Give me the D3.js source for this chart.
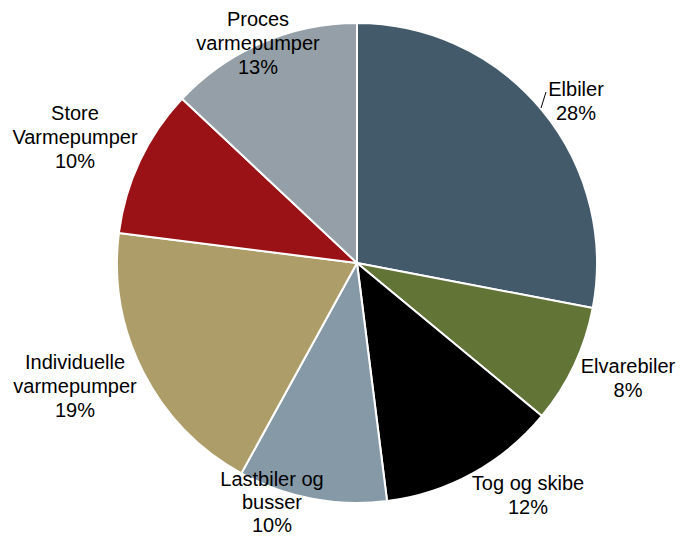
<!DOCTYPE html>
<html>
<head>
<meta charset="utf-8">
<script src="https://cdn.jsdelivr.net/npm/d3@7/dist/d3.min.js"></script>
<style>
  html, body { margin: 0; padding: 0; background: #fff; }
  svg { display: block; }
  text { font-family: "Liberation Sans", Arial, sans-serif; font-size: 20px; fill: #000; }
</style>
</head>
<body>
<svg id="chart" width="680" height="539"></svg>
<script>
// Share of electricity demand by consumer group (percent)
const categories = [
  ["Elbiler"],
  ["Elvarebiler"],
  ["Tog og skibe"],
  ["Lastbiler og", "busser"],
  ["Individuelle", "varmepumper"],
  ["Store", "Varmepumper"],
  ["Proces", "varmepumper"]
];
const values = [28, 8, 12, 10, 19, 10, 13];
const colors = ["#435a6b", "#637437", "#000000", "#8699a6", "#ad9d69", "#9a1216", "#959fa7"];

// Label anchors relative to the pie centre (x of text centre, y of first baseline)
const labelOffsets = [
  [219, -167],
  [271, 110],
  [171, 227],
  [-85, 223],
  [-282, 106],
  [-282, -143],
  [-99, -237]
];
// Line spacing per label
const lineSpacing = [24, 24, 24, 23, 24, 24, 24];

const width = 680, height = 539;
const cx = 357, cy = 263, radius = 240;

const svg = d3.select("#chart");
const g = svg.append("g").attr("transform", `translate(${cx},${cy})`);

const pie = d3.pie().sort(null).value(d => d)(values);
const arc = d3.arc().innerRadius(0).outerRadius(radius);

g.selectAll("path.slice")
  .data(pie)
  .join("path")
  .attr("class", "slice")
  .attr("d", arc)
  .attr("fill", (d, i) => colors[i])
  .attr("stroke", "#fff")
  .attr("stroke-width", 2)
  .attr("stroke-linejoin", "round");

// Short leader line for the first slice
g.append("line")
  .attr("x1", 184).attr("y1", -155)
  .attr("x2", 189).attr("y2", -171)
  .attr("stroke", "#000")
  .attr("stroke-width", 1);

const labels = g.selectAll("text.label")
  .data(pie)
  .join("text")
  .attr("class", "label")
  .attr("text-anchor", "middle")
  .attr("transform", (d, i) => `translate(${labelOffsets[i][0]},${labelOffsets[i][1]})`);

labels.each(function(d, i) {
  const t = d3.select(this);
  const lines = categories[i].concat([d.data + "%"]);
  lines.forEach((s, k) => {
    t.append("tspan").attr("x", 0).attr("y", k * lineSpacing[i]).text(s);
  });
});
</script>
</body>
</html>
